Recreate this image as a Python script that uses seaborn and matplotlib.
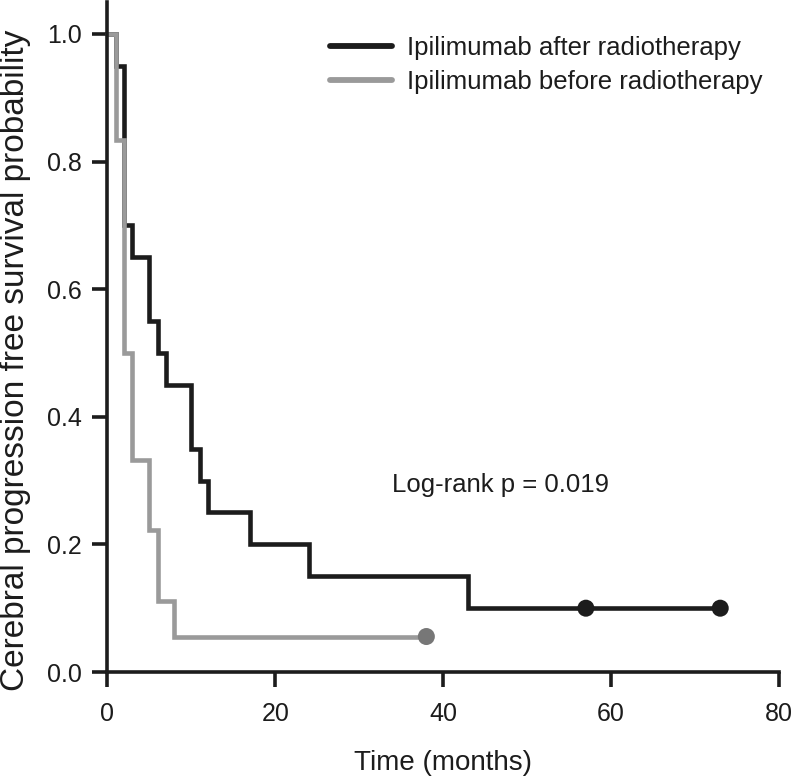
import matplotlib
matplotlib.use("Agg")
import matplotlib.pyplot as plt
import seaborn as sns
import pandas as pd

# ---- data ----
groups = ["Ipilimumab after radiotherapy", "Ipilimumab before radiotherapy"]
after_time = [0, 1, 2, 3, 5, 6, 7, 10, 11, 12, 17, 24, 43, 73]
after_surv = [1.0, 0.95, 0.70, 0.65, 0.55, 0.50, 0.45, 0.35, 0.30, 0.25, 0.20, 0.15, 0.10, 0.10]
before_time = [0, 1, 2, 3, 5, 6, 8, 38]
before_surv = [1.0, 0.833, 0.5, 0.333, 0.222, 0.111, 0.0556, 0.0556]
after_cens_time = [57, 73]
after_cens_surv = [0.10, 0.10]
before_cens_time = [38]
before_cens_surv = [0.0556]
x_ticks = [0, 20, 40, 60, 80]
y_ticks = [0.0, 0.2, 0.4, 0.6, 0.8, 1.0]
pval_text = "Log-rank p = 0.019"

line_colors = {groups[0]: "#1c1c1c", groups[1]: "#9a9a9a"}
cens_colors = {groups[0]: "#1c1c1c", groups[1]: "#777777"}

df = pd.concat([
    pd.DataFrame({"time": after_time, "surv": after_surv, "group": groups[0]}),
    pd.DataFrame({"time": before_time, "surv": before_surv, "group": groups[1]}),
], ignore_index=True)
cens = pd.concat([
    pd.DataFrame({"time": after_cens_time, "surv": after_cens_surv, "group": groups[0]}),
    pd.DataFrame({"time": before_cens_time, "surv": before_cens_surv, "group": groups[1]}),
], ignore_index=True)

sns.set_theme(style="ticks")
plt.rcParams["font.family"] = ["Liberation Sans", "DejaVu Sans"]

fig = plt.figure(figsize=(7.93, 7.79), dpi=100)
ax = fig.add_axes([107.3 / 793, 1 - 672 / 779, (779 - 107.3) / 793, (672 - 2) / 779])

sns.lineplot(data=df, x="time", y="surv", hue="group", hue_order=groups,
             palette=line_colors, drawstyle="steps-post", estimator=None,
             sort=False, linewidth=3.3, ax=ax, legend=True)
for l in ax.lines:
    l.set_clip_on(False)
    l.set_solid_joinstyle("miter")

sns.scatterplot(data=cens, x="time", y="surv", hue="group", hue_order=groups,
                palette=cens_colors, s=150, edgecolor="none", ax=ax,
                legend=False, zorder=5, clip_on=False)

ax.set_xlim(0, 80)
ax.set_ylim(0, 1.05)
ax.set_xticks(x_ticks)
ax.set_yticks(y_ticks)
ax.set_yticklabels([f"{v:.1f}" for v in y_ticks])
ax.set_xticklabels([str(v) for v in x_ticks])

for side in ["top", "right"]:
    ax.spines[side].set_visible(False)
for side in ["left", "bottom"]:
    ax.spines[side].set_linewidth(2.6)
    ax.spines[side].set_color("#1c1c1c")
ax.tick_params(axis="both", direction="out", length=10.5, width=2.6,
               color="#1c1c1c", labelcolor="#1c1c1c")
ax.tick_params(axis="y", pad=8, labelsize=18)
ax.tick_params(axis="x", pad=11, labelsize=18)

ax.set_xlabel("Time (months)", fontsize=20, color="#1c1c1c")
ax.set_ylabel("Cerebral progression free survival probability", fontsize=24,
              color="#1c1c1c")
ax.xaxis.set_label_coords(0.5, (672 - 750) / 670)
ax.yaxis.set_label_coords((31 - 107.3) / 671.7, (672 - 360) / 670)

ax.text(33.9, 0.293, pval_text, fontsize=18.5, color="#1c1c1c",
        ha="left", va="center")

handles, labels = ax.get_legend_handles_labels()
leg = ax.legend(handles, labels, loc="upper left",
                bbox_to_anchor=(330 / 793, 1 - 36 / 779),
                bbox_transform=fig.transFigure, frameon=False, fontsize=18.5,
                handlelength=2.41, handletextpad=0.58, labelspacing=0.4,
                borderpad=0, borderaxespad=0)
for h in leg.get_lines():
    h.set_linewidth(4.2)
for t in leg.get_texts():
    t.set_color("#1c1c1c")

fig.savefig("out.png", dpi=100)
